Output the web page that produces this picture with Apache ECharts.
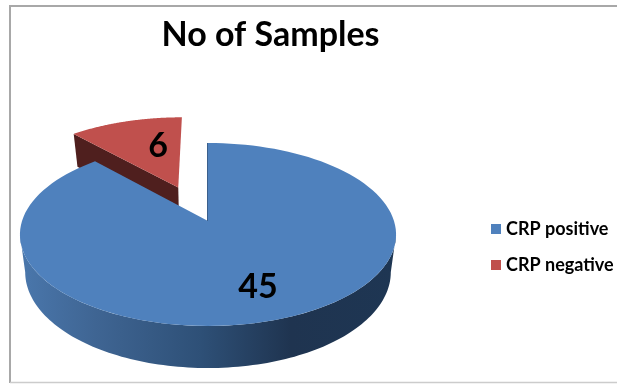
<!DOCTYPE html>
<html>
<head>
<meta charset="utf-8">
<style>html,body{margin:0;padding:0;background:#fff}#chart{width:617px;height:385px}</style>
<script src="https://cdn.jsdelivr.net/npm/echarts@6/dist/echarts.min.js"></script>
</head>
<body>
<div id="chart"></div>
<script>
// Sample counts by CRP result
var categories = ['CRP positive', 'CRP negative'];
var sampleCounts = [45, 6];
var sliceColors = ['#4F81BD', '#C0504D'];
var wallColor = '#4F1F1E';
var chartTitle = 'No of Samples';

var FONT = 'Lato, "Open Sans", sans-serif';
var total = sampleCounts.reduce(function (a, b) { return a + b; }, 0);

// Perspective pie: angles run clockwise from the back of the disc.
var CX = 208, PERSP = 0.1475;
var TOP_FACE = { cy: 221, ax: 186, by: 89.5 };
var BASE_FACE = { cy: 258, ax: 180.8, by: 93.8 };
var EXPLODE = 0.432, EXPLODE_TURN = -1.9 * Math.PI / 180;

function project(face, u, v) {
  var w = 1 + PERSP * v;
  return [CX + face.ax * u / w, face.cy - face.by * v / w];
}
function sliceAngles(index) {
  var before = 0;
  for (var i = 0; i < index; i++) before += sampleCounts[i];
  return [before / total * Math.PI * 2, (before + sampleCounts[index]) / total * Math.PI * 2];
}
function sliceOrigin(angles, exploded) {
  if (!exploded) return [0, 0];
  var mid = (angles[0] + angles[1]) / 2 + EXPLODE_TURN;
  return [EXPLODE * Math.sin(mid), EXPLODE * Math.cos(mid)];
}
function rim(face, origin, from, to) {
  var pts = [], steps = 120;
  for (var i = 0; i <= steps; i++) {
    var t = from + (to - from) * i / steps;
    pts.push(project(face, origin[0] + Math.sin(t), origin[1] + Math.cos(t)));
  }
  return pts;
}

function renderPositive(params, api) {
  var color = api.visual('color');
  var a = sliceAngles(0), o = sliceOrigin(a, false);
  var hinge = project(TOP_FACE, o[0], o[1]);
  var tangent = Math.acos(-PERSP);
  var frontTop = rim(TOP_FACE, o, tangent, Math.PI * 2 - tangent);
  var frontBase = rim(BASE_FACE, o, tangent, Math.PI * 2 - tangent).reverse();
  return {
    type: 'group',
    children: [
      {
        type: 'polygon',
        shape: { points: frontTop.concat(frontBase) },
        style: {
          fill: new echarts.graphic.LinearGradient(0, 0, 1, 0, [
            { offset: 0, color: '#4A77AC' },
            { offset: 0.2, color: '#3F6593' },
            { offset: 0.48, color: '#2E5077' },
            { offset: 0.72, color: '#1F3450' },
            { offset: 1, color: '#1E3653' }
          ])
        }
      },
      {
        type: 'polygon',
        shape: { points: [hinge].concat(rim(TOP_FACE, o, a[0], a[1])) },
        style: { fill: color }
      },
      {
        type: 'line',
        shape: { x1: hinge[0] - 0.5, y1: hinge[1], x2: hinge[0] - 0.5, y2: project(TOP_FACE, o[0], o[1] + 1)[1] },
        style: { stroke: '#3A5F8C', lineWidth: 1 }
      },
      {
        type: 'text',
        style: {
          text: String(api.value(0)), x: 258, y: 287,
          align: 'center', verticalAlign: 'middle',
          font: 'bold 34px ' + FONT, fill: '#000'
        }
      }
    ]
  };
}

function renderNegative(params, api) {
  var color = api.visual('color');
  var a = sliceAngles(1), o = sliceOrigin(a, true);
  var hinge = project(TOP_FACE, o[0], o[1]);
  var hingeBase = project(BASE_FACE, o[0], o[1]);
  var corner = project(TOP_FACE, o[0] + Math.sin(a[0]), o[1] + Math.cos(a[0]));
  var cornerBase = project(BASE_FACE, o[0] + Math.sin(a[0]), o[1] + Math.cos(a[0]));
  return {
    type: 'group',
    children: [
      {
        type: 'polygon',
        shape: { points: [hinge, corner, cornerBase, hingeBase] },
        style: { fill: wallColor }
      },
      {
        type: 'polygon',
        shape: { points: [hinge].concat(rim(TOP_FACE, o, a[0], a[1])) },
        style: { fill: color }
      },
      {
        type: 'text',
        style: {
          text: String(api.value(0)), x: 158, y: 146,
          align: 'center', verticalAlign: 'middle',
          font: 'bold 34px ' + FONT, fill: '#000'
        }
      }
    ]
  };
}

var chart = echarts.init(document.getElementById('chart'), null, { renderer: 'canvas' });
chart.setOption({
  animation: false,
  backgroundColor: '#fff',
  title: {
    text: chartTitle,
    left: 265.5, top: 13, textAlign: 'center',
    textStyle: { fontFamily: FONT, fontWeight: 'bold', fontSize: 34, color: '#000' }
  },
  legend: {
    data: categories,
    orient: 'vertical',
    left: 486, top: 215,
    icon: 'rect', itemWidth: 10, itemHeight: 10, itemGap: 18,
    selectedMode: false,
    textStyle: { fontFamily: FONT, fontWeight: 'bold', fontSize: 18, color: '#000' }
  },
  graphic: [
    { type: 'polyline', silent: true, shape: { points: [[617, 6], [10, 6], [10, 383]] },
      style: { fill: null, stroke: '#A8A8A8', lineWidth: 2 } },
    { type: 'line', silent: true, shape: { x1: 10, y1: 382.5, x2: 617, y2: 382.5 },
      style: { stroke: '#CCCCCC', lineWidth: 1.5 } }
  ],
  series: [
    { type: 'custom', name: categories[1], coordinateSystem: 'none', z: 2,
      itemStyle: { color: sliceColors[1] }, renderItem: renderNegative, data: [[sampleCounts[1]]] },
    { type: 'custom', name: categories[0], coordinateSystem: 'none', z: 3,
      itemStyle: { color: sliceColors[0] }, renderItem: renderPositive, data: [[sampleCounts[0]]] }
  ]
});
</script>
</body>
</html>
